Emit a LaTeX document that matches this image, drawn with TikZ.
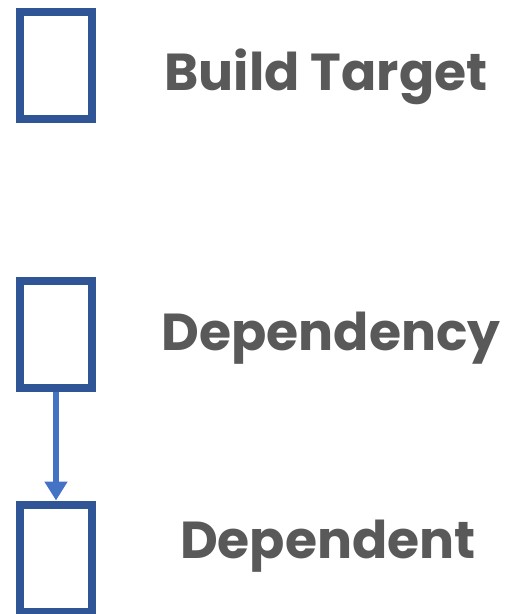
\documentclass[tikz,border=0pt]{standalone}
\usepackage{fontspec}
\setmainfont{Poppins}
\usetikzlibrary{calc,positioning,arrows.meta}
\definecolor{boxblue}{HTML}{2F5597}
\definecolor{arrowblue}{HTML}{4472C4}
\definecolor{labelgrey}{HTML}{595959}

\begin{document}
\begin{tikzpicture}[x=1pt, y=1pt]
\tikzset{targetbox/.style={draw=boxblue,line width=8pt,minimum width=72pt,minimum height=107pt,inner sep=0},
boxlabel/.style={font=\fontsize{52}{58}\selectfont\bfseries,text=labelgrey,anchor=base,inner sep=0}}

\useasboundingbox (0,0) rectangle (507,-614);

\node (b0) [targetbox] at (56, -65.5) {};
\node (b1) [targetbox] at (56, -334) {};
\node (b2) [targetbox] at (56, -558) {};

\node (l0) [boxlabel] at (326, -90) {Build Target};
\node (l1) [boxlabel] at (331, -350) {Dependency};
\node (l2) [boxlabel] at (328, -558) {Dependent};

%% Edges
\draw [arrowblue, line width=6pt, -{Triangle[width=22pt,length=19pt]}] (b1) -- (b2);

\end{tikzpicture}
\end{document}
